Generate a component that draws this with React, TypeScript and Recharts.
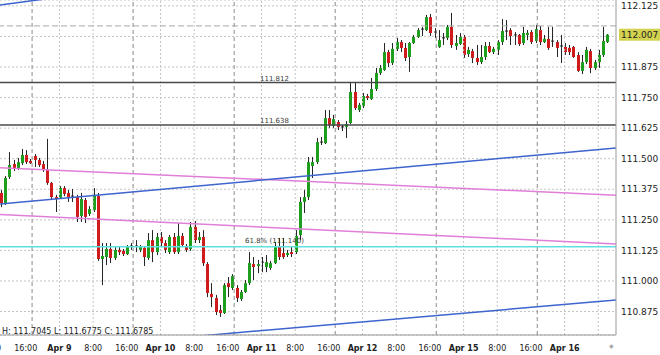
import { ComposedChart, Bar, XAxis, YAxis, CartesianGrid, ReferenceLine } from "recharts";

// hourly bars, index 0 = first visible candle
const openPrices = [
  111.360, 111.319, 111.425, 111.478, 111.462, 111.482, 111.515, 111.491, 111.511, 111.495,
  111.478, 111.454, 111.401, 111.343, 111.339, 111.380, 111.360, 111.347, 111.343, 111.266,
  111.331, 111.274, 111.290, 111.347, 111.090, 111.098, 111.131, 111.094, 111.127, 111.123,
  111.110, 111.139, 111.143, 111.127, 111.135, 111.094, 111.167, 111.118, 111.180, 111.155,
  111.118, 111.180, 111.118, 111.184, 111.143, 111.131, 111.221, 111.167, 111.180, 111.069,
  110.947, 110.930, 110.881, 110.869, 110.991, 110.971, 110.971, 110.926, 110.955, 110.991,
  111.069, 111.061, 111.073, 111.057, 111.053, 111.073, 111.139, 111.114, 111.106, 111.118,
  111.118, 111.188, 111.323, 111.343, 111.470, 111.486, 111.568, 111.564, 111.666, 111.634,
  111.650, 111.630, 111.630, 111.646, 111.773, 111.699, 111.715, 111.756, 111.744, 111.785,
  111.850, 111.863, 111.936, 111.891, 111.949, 111.977, 111.953, 111.916, 111.973, 111.998,
  112.030, 112.026, 112.079, 112.018, 111.957, 111.990, 111.994, 112.039, 111.961, 111.969,
  111.998, 111.928, 111.940, 111.912, 111.895, 111.916, 111.961, 111.936, 111.945, 111.977,
  112.022, 112.026, 112.002, 112.006, 111.973, 112.006, 112.018, 111.981, 112.026, 111.977,
  111.990, 111.977, 111.977, 111.961, 111.957, 111.953, 111.957, 111.924, 111.859, 111.895,
  111.940, 111.871, 111.895, 111.924, 111.977,
];
const highPrices = [
  111.372, 111.429, 111.527, 111.495, 111.503, 111.540, 111.535, 111.499, 111.519, 111.503,
  111.491, 111.581, 111.405, 111.352, 111.388, 111.388, 111.372, 111.376, 111.352, 111.360,
  111.339, 111.306, 111.380, 111.360, 111.155, 111.155, 111.155, 111.139, 111.139, 111.131,
  111.147, 111.155, 111.167, 111.147, 111.143, 111.196, 111.208, 111.196, 111.200, 111.167,
  111.188, 111.196, 111.237, 111.196, 111.151, 111.241, 111.245, 111.200, 111.208, 111.077,
  110.991, 110.943, 110.902, 110.991, 111.016, 111.028, 110.983, 110.963, 111.004, 111.118,
  111.098, 111.086, 111.098, 111.106, 111.082, 111.159, 111.176, 111.176, 111.127, 111.139,
  111.208, 111.343, 111.372, 111.507, 111.507, 111.585, 111.589, 111.699, 111.699, 111.679,
  111.658, 111.638, 111.654, 111.814, 111.814, 111.728, 111.769, 111.765, 111.830, 111.871,
  111.883, 111.973, 111.945, 111.973, 111.994, 111.985, 111.973, 111.977, 112.006, 112.034,
  112.039, 112.088, 112.092, 112.034, 112.026, 112.014, 112.047, 112.096, 112.006, 112.014,
  112.006, 111.957, 111.949, 111.965, 111.965, 111.977, 111.977, 111.957, 111.985, 112.071,
  112.067, 112.034, 112.018, 112.010, 112.039, 112.026, 112.026, 112.047, 112.043, 112.006,
  112.039, 112.039, 111.985, 112.006, 111.973, 111.965, 111.961, 111.936, 111.924, 111.957,
  111.949, 111.904, 111.945, 112.039, 112.010,
];
const lowPrices = [
  111.302, 111.311, 111.417, 111.450, 111.454, 111.474, 111.478, 111.478, 111.466, 111.466,
  111.446, 111.393, 111.331, 111.282, 111.335, 111.347, 111.323, 111.323, 111.241, 111.241,
  111.237, 111.266, 111.282, 111.082, 110.983, 111.065, 111.073, 111.086, 111.106, 111.102,
  111.106, 111.127, 111.118, 111.118, 111.061, 111.086, 111.077, 111.106, 111.139, 111.114,
  111.110, 111.110, 111.110, 111.139, 111.118, 111.123, 111.155, 111.155, 111.061, 110.934,
  110.893, 110.861, 110.853, 110.865, 110.934, 110.963, 110.914, 110.918, 110.951, 110.983,
  111.004, 111.032, 111.036, 111.036, 111.045, 111.069, 111.086, 111.090, 111.098, 111.098,
  111.110, 111.167, 111.278, 111.331, 111.421, 111.478, 111.556, 111.560, 111.626, 111.626,
  111.617, 111.613, 111.585, 111.642, 111.699, 111.691, 111.707, 111.740, 111.740, 111.777,
  111.842, 111.859, 111.875, 111.883, 111.940, 111.936, 111.899, 111.855, 111.969, 111.994,
  112.002, 112.022, 112.002, 111.994, 111.953, 111.965, 111.985, 111.953, 111.945, 111.965,
  111.912, 111.916, 111.891, 111.883, 111.887, 111.904, 111.932, 111.928, 111.924, 111.965,
  111.985, 111.965, 111.965, 111.961, 111.965, 111.985, 111.969, 111.973, 111.965, 111.973,
  111.945, 111.957, 111.916, 111.891, 111.924, 111.924, 111.912, 111.855, 111.846, 111.887,
  111.850, 111.863, 111.871, 111.916, 111.973,
];
const closePrices = [
  111.319, 111.421, 111.474, 111.462, 111.486, 111.515, 111.486, 111.482, 111.495, 111.474,
  111.458, 111.401, 111.343, 111.335, 111.380, 111.356, 111.343, 111.343, 111.262, 111.335,
  111.262, 111.294, 111.352, 111.090, 111.102, 111.131, 111.094, 111.127, 111.118, 111.110,
  111.139, 111.143, 111.139, 111.139, 111.098, 111.167, 111.118, 111.180, 111.155, 111.127,
  111.180, 111.118, 111.184, 111.147, 111.127, 111.221, 111.167, 111.180, 111.073, 110.951,
  110.934, 110.873, 110.869, 110.983, 110.975, 111.020, 110.930, 110.955, 110.991, 111.073,
  111.057, 111.069, 111.077, 111.077, 111.073, 111.139, 111.098, 111.098, 111.114, 111.110,
  111.184, 111.323, 111.343, 111.486, 111.486, 111.568, 111.564, 111.666, 111.638, 111.662,
  111.630, 111.626, 111.642, 111.773, 111.707, 111.720, 111.756, 111.748, 111.785, 111.850,
  111.871, 111.936, 111.891, 111.949, 111.977, 111.953, 111.912, 111.973, 111.998, 112.026,
  112.026, 112.079, 112.014, 112.014, 111.985, 111.994, 112.039, 111.965, 111.973, 111.998,
  111.924, 111.945, 111.912, 111.895, 111.916, 111.961, 111.936, 111.949, 111.977, 112.022,
  112.018, 112.002, 112.006, 111.969, 112.014, 112.014, 111.977, 112.030, 111.977, 111.990,
  111.953, 111.981, 111.953, 111.957, 111.936, 111.936, 111.916, 111.859, 111.895, 111.945,
  111.871, 111.895, 111.924, 111.981, 112.007,
];

const timeTickBars = [-2, 6, 14, 22, 30, 38, 46, 54, 62, 70, 78, 86, 94, 102, 110, 118, 126, 134];
const timeTickLabels = [
  "8:00", "16:00", "Apr 9", "8:00", "16:00", "Apr 10", "8:00", "16:00", "Apr 11",
  "8:00", "16:00", "Apr 12", "8:00", "16:00", "Apr 15", "8:00", "16:00", "Apr 16",
];
const gridBars = [14, 22, 38, 46, 62, 70, 86, 94, 110, 118, 134, 142];
const daySeparators = [7.5, 31.5, 55.5, 79.5, 103.5, 127.5];
const priceTicks = [110.875, 111.0, 111.125, 111.25, 111.375, 111.5, 111.625, 111.75, 111.875, 112.0, 112.125];

const levelPrices = [111.812, 111.638];
const fibPrice = 111.14;
const fibLabel = "61.8% (111.140)";
const bidPrice = 112.007;
const askPrice = 112.043;
const ohlcInfo = "H: 111.7045 L: 111.6775 C: 111.6785";

// trend lines: [bar, price] pairs
const blueLines = [
  [[-0.12, 111.315], [146.2, 111.544]],
  [[48, 110.776], [146.2, 110.922]],
  [[-0.12, 112.129], [11, 112.154]],
];
const pinkLines = [
  [[-0.12, 111.463], [146.2, 111.351]],
  [[-0.12, 111.272], [146.2, 111.151]],
];

const candles = openPrices.map((open, i) => ({
  bar: i,
  open,
  high: highPrices[i],
  low: lowPrices[i],
  close: closePrices[i],
}));

const FONT = "DejaVu Sans";

function Candle(props: any) {
  const { x, y, width, height, payload } = props;
  if (!payload) return null;
  const { open, high, low, close } = payload;
  const span = high - low || 1;
  const toY = (v: number) => y + ((high - v) / span) * height;
  const cx = Math.round(x + width / 2) + 0.5;
  const yo = toY(open);
  const yc = toY(close);
  const top = Math.min(yo, yc);
  const bot = Math.max(yo, yc);
  const fill = close >= open ? "#1d9f1d" : "#cf1b1b";
  return (
    <g>
      <line x1={cx} x2={cx} y1={y} y2={y + height} stroke="#262626" strokeWidth={1} />
      {bot - top < 1 ? (
        <line x1={cx - 1.5} x2={cx + 1.5} y1={top} y2={top} stroke="#262626" />
      ) : (
        <rect x={cx - 1.5} y={top} width={3} height={bot - top} fill={fill} />
      )}
    </g>
  );
}

function TimeTick(props: any) {
  const { x, payload } = props;
  const label = timeTickLabels[timeTickBars.indexOf(payload.value)];
  const isDate = label && label.startsWith("Apr");
  return (
    <text x={x} y={351} textAnchor="middle" fontSize={8} fontFamily={FONT}
      fontWeight={isDate ? "bold" : "normal"} fill="#222">
      {label}
    </text>
  );
}

function LevelTag(props: any) {
  const { viewBox, text, left, lift } = props;
  if (!viewBox) return null;
  return (
    <text x={left} y={viewBox.y - lift} fontSize={7} fontFamily={FONT} fill="#3a3a3a">
      {text}
    </text>
  );
}

function BidTag(props: any) {
  const { viewBox } = props;
  if (!viewBox) return null;
  const x0 = viewBox.x + viewBox.width + 3;
  return (
    <g>
      <rect x={x0} y={viewBox.y - 6} width={42} height={12} fill="#d2d24e" />
      <text x={x0 + 2} y={viewBox.y + 3.2} fontSize={9} fontFamily={FONT} fill="#222">
        {bidPrice.toFixed(3)}
      </text>
    </g>
  );
}

// the bid tag covers the nearby axis label, as in the terminal
const priceLabel = (v: number) => (Math.abs(v - bidPrice) < 0.03 ? "" : v.toFixed(3));

export default function App() {
  return (
    <div style={{ position: "absolute", left: 0, top: 0, width: 660, height: 355, background: "#fff" }}>
      <ComposedChart width={660} height={355} data={candles}
        margin={{ top: 0, right: 0, bottom: 0, left: 0 }}>
        <CartesianGrid vertical={false} stroke="#c4c4c4" strokeDasharray="2 2" />
        <XAxis dataKey="bar" type="number" domain={[-0.12, 146.2]} allowDataOverflow
          ticks={timeTickBars} interval={0} tick={<TimeTick />} tickLine={false}
          axisLine={{ stroke: "#999" }} height={20} />
        <YAxis orientation="right" type="number" domain={[110.779, 112.149]} allowDataOverflow
          ticks={priceTicks} interval={0} width={44} tickLine={false} tickSize={3} tickMargin={2}
          axisLine={{ stroke: "#999" }} tickFormatter={priceLabel}
          tick={{ fontSize: 9, fontFamily: FONT, fill: "#222" }} />

        {gridBars.map((b) => (
          <ReferenceLine key={"g" + b} x={b} stroke="#c4c4c4" strokeDasharray="2 2" />
        ))}
        {daySeparators.map((b) => (
          <ReferenceLine key={"d" + b} x={b} stroke="#8a8a8a" strokeDasharray="4 3" />
        ))}

        <Bar dataKey={(d: any) => [d.low, d.high]} barSize={3} shape={(p: any) => <Candle {...p} />}
          isAnimationActive={false} />

        <ReferenceLine y={askPrice} stroke="#a8a8a8" strokeDasharray="6 3" />
        <ReferenceLine y={bidPrice} stroke="none" label={<BidTag />} />
        <ReferenceLine y={levelPrices[0]} stroke="#4a4a4a" strokeWidth={1.5}
          label={<LevelTag text={levelPrices[0].toFixed(3)} left={260} lift={1.5} />} />
        <ReferenceLine y={levelPrices[1]} stroke="#4a4a4a" strokeWidth={1.5}
          label={<LevelTag text={levelPrices[1].toFixed(3)} left={260} lift={1.7} />} />
        <ReferenceLine y={fibPrice} stroke="#5fe0e0" strokeWidth={1.5}
          label={<LevelTag text={fibLabel} left={245} lift={3.5} />} />

        {pinkLines.map((seg, i) => (
          <ReferenceLine key={"p" + i} ifOverflow="hidden" stroke="#e07fd8" strokeWidth={1.5}
            segment={[{ x: seg[0][0], y: seg[0][1] }, { x: seg[1][0], y: seg[1][1] }]} />
        ))}
        {blueLines.map((seg, i) => (
          <ReferenceLine key={"b" + i} ifOverflow="hidden" stroke="#3d64cf" strokeWidth={1.5}
            segment={[{ x: seg[0][0], y: seg[0][1] }, { x: seg[1][0], y: seg[1][1] }]} />
        ))}
      </ComposedChart>
      <div style={{ position: "absolute", left: 2, top: 327, fontSize: 8, lineHeight: "10px",
        fontFamily: FONT, color: "#222", whiteSpace: "pre" }}>
        {ohlcInfo}
      </div>
      <div style={{ position: "absolute", left: 609, top: 342, fontSize: 6, lineHeight: "8px",
        fontFamily: FONT, color: "#aaa" }}>
        ◆
      </div>
    </div>
  );
}
